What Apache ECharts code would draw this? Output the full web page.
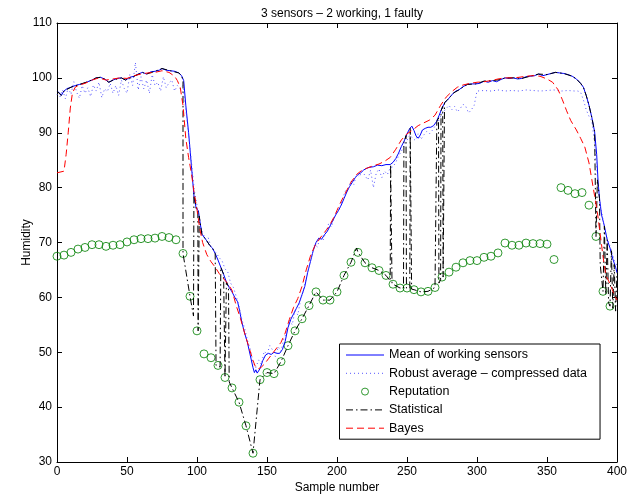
<!DOCTYPE html>
<html>
<head>
<meta charset="utf-8">
<script src="https://cdn.jsdelivr.net/npm/echarts@6/dist/echarts.min.js"></script>
<style>html,body{margin:0;padding:0;background:#fff}#c{width:643px;height:499px}</style>
</head>
<body>
<div id="c"></div>
<script>
var titleText = '3 sensors \u2013 2 working, 1 faulty';
var seriesNames = ['Mean of working sensors', 'Robust average \u2013 compressed data', 'Reputation', 'Statistical', 'Bayes'];
var xTicks = {min: 0, max: 400, interval: 50};
var yTicks = {min: 30, max: 110, interval: 10};

var meanData = [[0,97.6],[2,97.2],[3,96.8],[5,97.6],[7,98.0],[10,98.3],[13,98.6],[16,98.8],[19,99.0],[22,99.3],[25,99.6],[28,100.0],[31,100.1],[34,99.8],[37,99.2],[40,99.6],[43,99.9],[46,100.0],[49,99.6],[52,100.1],[55,100.3],[58,100.7],[61,101.0],[64,100.7],[67,101.1],[70,101.2],[73,101.4],[75,101.7],[78,101.4],[81,101.3],[84,101.2],[87,100.9],[89,100.4],[90.5,99.5],[92,95],[94,90],[96,84],[98,78],[99.5,76.2],[101,75.8],[102,74],[103.5,71.5],[105,71.0],[107,70.3],[109,69.5],[111,69.0],[113,68.0],[115,66.8],[117,65.5],[119,64.2],[121,62.8],[123,61.8],[125,61.0],[127,60.0],[129,59.2],[130.5,57.5],[132,55.5],[134,53.5],[136,51.8],[138,49.5],[140,47.2],[141,46.3],[142,46.8],[143,46.2],[145,47.0],[147,48.5],[149,49.5],[151,49.8],[153,49.6],[155,50.0],[157,49.8],[159,49.8],[161,50.5],[163,52.0],[165,54.5],[167,56.0],[169,57.0],[171,58.0],[173,59.0],[175,60.5],[177,62.0],[179,64.5],[181,66.5],[183,68.5],[185,70.0],[187,70.8],[189,70.6],[191,71.4],[193,72.0],[195,73.0],[197,74.0],[199,75.0],[201,75.8],[203,76.8],[205,78.0],[207,79.2],[209,80.2],[211,81.0],[213,81.8],[215,82.4],[217,82.7],[219,83.2],[221,83.5],[223,83.7],[226,83.8],[229,84.1],[232,84.0],[235,84.2],[238,84.2],[240,84.6],[242,85.3],[244,86.3],[246,87.5],[248,88.5],[250,89.8],[252,90.8],[253.5,91.2],[255,90.4],[256.5,89.4],[258,89.0],[259.5,89.6],[261,90.5],[263,90.8],[265,91.0],[267,91.0],[269,91.3],[271,92.0],[273,93.2],[275,94.5],[277,95.5],[279,96.0],[281,96.6],[283,97.2],[285,97.6],[287,97.8],[290,98.4],[293,98.8],[296,98.9],[299,98.9],[302,99.0],[305,99.4],[308,99.2],[311,99.5],[314,99.3],[317,99.7],[320,100.0],[323,99.9],[326,100.0],[329,99.8],[332,99.9],[335,100.2],[338,100.3],[341,100.4],[344,100.7],[347,100.4],[350,100.6],[353,100.8],[356,101.0],[359,100.9],[362,100.8],[365,100.6],[368,100.3],[371,99.8],[374,99.0],[376,98.3],[378,96.8],[380,95.0],[382,92.8],[384,90.2],[385.5,86],[386.5,81],[387.5,78],[389,75],[391,73],[393,70.5],[395,69],[397,67.0],[399,65.5],[400,64.5]];

var robustX = [0,2,4,6,8,10,12,14,16,18,20,22,24,26,28,30,32,34,36,38,40,42,44,46,48,50,52,54,56,58,60,62,64,66,68,70,72,74,76,78,80,82,84,86,88,90,92,94,96,98,100,102,104,106,108,110,112,114,116,118,120,122,124,126,128,130,132,134,136,138,140,142,144,146,148,150,152,154,156,158,160,162,164,166,168,170,172,174,176,178,180,182,184,186,188,190,192,194,196,198,200,202,204,206,208,210,212,214,216,218,220,222,224,226,228,230,232,234,236,238,240,242,244,246,248,250,252,254,256,258,260,262,264,266,268,270,272,274,276,278,280,282,284,286,288,290,292,294,296,298,300,305,310,315,320,325,330,335,340,345,350,355,360,365,370,372,374,376,378,380,382,384,386,388,390,392,394,396,398,400];
var robustY = [97.0,96.5,97.8,96.2,98.2,97.0,99.3,97.4,96.3,98.6,97.2,98.2,96.6,98.7,97.6,99.2,96.4,98.0,97.5,99.0,97.2,98.6,96.8,99.6,98.1,97.2,100.6,98.6,102.8,97.8,100.2,98.0,99.6,97.2,100.6,98.6,99.2,97.6,100.2,98.2,99.1,99.6,97.6,98.6,98.0,98.6,94.2,89.6,84.8,79.6,76.8,73.8,71.8,70.6,70.9,69.2,68.6,68.0,67.2,66.6,65.2,64.6,62.6,61.8,60.2,58.4,56.0,54.4,52.2,50.6,48.2,47.2,48.6,47.8,50.2,49.6,51.2,50.4,49.2,51.0,50.2,52.4,53.6,55.8,55.0,57.6,56.8,59.6,61.2,63.6,65.6,67.4,69.6,69.2,71.0,70.4,71.8,73.4,72.8,74.6,75.6,76.2,78.0,79.4,79.8,81.2,80.6,82.4,82.0,83.0,82.2,81.4,83.2,80.0,82.6,83.4,81.8,83.0,82.4,83.6,83.8,84.6,85.8,86.6,87.8,88.6,89.6,89.0,88.6,89.8,88.8,89.6,90.2,89.8,90.4,91.2,91.8,93.0,93.8,94.4,95.0,94.2,94.8,93.8,94.4,95.2,94.8,93.6,94.2,95.0,97.6,97.7,97.6,97.8,97.6,97.7,97.6,97.8,97.7,97.6,97.7,97.8,97.6,97.7,97.6,97.6,97.4,96.0,94.2,93.0,92.2,88.0,82.0,77.0,74.2,71.6,70.0,68.6,66.8,65.8];

var reputationX = [0,5,10,15,20,25,30,35,40,45,50,55,60,65,70,75,80,85,90,95,100,105,110,115,120,125,130,135,140,145,150,155,160,165,170,175,180,185,190,195,200,205,210,215,220,225,230,235,240,245,250,255,260,265,270,275,280,285,290,295,300,305,310,315,320,325,330,335,340,345,350,355,360,365,370,375,380,385,390,395];
var reputationY = [67.5,67.7,68.2,68.8,69.1,69.6,69.6,69.3,69.5,69.6,70.1,70.5,70.7,70.7,70.8,71.1,70.9,70.5,68.0,60.2,53.9,49.7,49.0,47.6,45.4,43.5,40.9,36.6,31.6,45.0,46.3,46.1,48.3,51.2,53.9,56.1,58.5,61.0,59.5,59.5,61.0,64.0,66.4,68.2,66.3,65.4,64.9,64.0,62.4,61.7,61.7,61.4,61.0,61.1,61.8,63.7,64.6,65.5,66.3,66.7,66.7,67.3,67.5,68.1,69.9,69.5,69.5,69.9,69.8,69.8,69.7,66.9,80.0,79.5,78.9,79.1,76.8,71.1,61.1,58.4];

var statisticalData = [[0,97.6],[3,96.8],[5,97.6],[10,98.3],[16,98.8],[22,99.3],[28,100.0],[31,100.1],[34,99.8],[37,99.2],[40,99.6],[46,100.0],[49,99.6],[55,100.3],[61,101.0],[64,100.7],[70,101.2],[75,101.7],[81,101.3],[87,100.9],[89,100.4],[90,99.5],[90,68.0],[95,60.2],[97.5,56.6],[97.8,79.0],[99.5,76.2],[100.6,75.8],[100.8,53.9],[101.2,53.9],[101.6,74.8],[103.5,71.5],[105,71.0],[107,70.3],[109,69.5],[111,69.0],[113,68.0],[113.6,47.6],[115,47.6],[116.5,47.3],[117,65.5],[119,64.2],[120,45.4],[121,62.8],[122.5,61.9],[123,44.6],[125,43.5],[130,40.9],[135,36.6],[140,31.6],[145,45.0],[150,46.3],[155,46.1],[160,48.3],[165,51.2],[170,53.9],[175,56.1],[180,58.5],[185,61.0],[190,59.5],[195,59.5],[200,61.0],[205,64.0],[210,66.4],[214,69.0],[215,68.2],[220,66.3],[225,65.4],[230,64.9],[235,64.0],[238,63.0],[238.3,84.2],[239,84.4],[239.3,62.5],[240,62.4],[245,61.7],[247.5,61.7],[247.8,88.2],[249.3,89.5],[249.6,61.7],[250,61.7],[252,61.6],[252.3,90.8],[253,91.1],[253.3,61.5],[255,61.4],[260,61.0],[265,61.1],[270,61.8],[271,62.0],[271.3,92.0],[272.5,92.9],[272.8,62.6],[274,63.2],[274.3,94.0],[275.5,94.8],[275.8,63.7],[276.5,64.0],[276.8,95.5],[279,96.0],[283,97.2],[287,97.8],[293,98.8],[299,98.9],[305,99.4],[311,99.5],[317,99.7],[320,100.0],[326,100.0],[332,99.9],[338,100.3],[344,100.7],[350,100.6],[356,101.0],[362,100.8],[368,100.3],[371,99.8],[374,99.0],[376,98.3],[378,96.8],[380,95.0],[382,92.8],[384,90.2],[385,71.1],[386,81.5],[387.5,78],[388,66],[390,61.1],[391,73],[392,60.5],[393,70.5],[394,59],[395,58.4],[396,68.5],[397,58],[398,66],[399,57.5],[400,64.5]];

var bayesData = [[0,82.7],[5,83.0],[6.5,86],[8,90],[9.5,94.5],[11,97.2],[13,98.3],[16,98.7],[20,99.0],[25,99.6],[30,100.0],[35,99.6],[40,99.8],[45,100.0],[50,99.9],[55,100.4],[60,100.7],[65,100.9],[70,101.0],[75,101.3],[80,101.0],[84,100.3],[86,99.5],[88,98.3],[90,95.0],[92,89.0],[94,85.5],[96,82.6],[98,79.0],[100,76.0],[102,72.5],[104,70.0],[107,67.8],[110,66.5],[113,65.5],[116,64.3],[119,63.4],[122,62.5],[125,61.3],[128,58.5],[131,56.2],[134,53.5],[137,51.0],[140,48.5],[142,47.2],[144,47.0],[146,47.3],[148,47.8],[151,48.8],[154,49.8],[157,50.8],[160,51.8],[163,53.5],[166,56.0],[169,58.2],[172,59.8],[175,62.0],[178,65.0],[181,67.5],[184,69.3],[187,70.5],[190,71.5],[194,72.8],[198,74.7],[202,77.0],[206,79.0],[210,81.0],[214,82.4],[218,83.2],[222,83.6],[226,84.0],[230,84.3],[234,84.8],[238,85.5],[242,87.0],[246,88.7],[250,89.8],[254,90.5],[258,91.3],[262,91.8],[266,92.3],[270,93.2],[274,95.0],[278,96.5],[282,97.5],[286,98.3],[290,98.7],[295,99.0],[300,99.2],[305,99.3],[310,99.5],[315,99.8],[320,100.0],[325,100.0],[330,100.1],[335,100.3],[340,100.4],[345,100.3],[350,99.8],[354,99.2],[358,97.8],[361,96.0],[364,94.0],[367,92.2],[371,90.5],[374,89.0],[377,87.4],[380,84.5],[382,81.5],[384,78.5],[386,75.5],[388,71.5],[390,67.5],[392,64.0],[395,62.5],[398,60.5],[400,59.5]];

function zip(xs, ys) { var out = []; for (var i = 0; i < xs.length; i++) out.push([xs[i], ys[i]]); return out; }

var FONT = '"Liberation Sans", Arial, Helvetica, sans-serif';
var chart = echarts.init(document.getElementById('c'), null, {renderer: 'canvas'});
var hideSym = {color: 'rgba(0,0,0,0)', borderWidth: 0};
var axisBase = {
  axisLine: {show: true, onZero: false, lineStyle: {color: '#000', width: 1}},
  axisTick: {show: true, inside: true, length: 5, lineStyle: {color: '#000', width: 1}},
  splitLine: {show: false}
};
chart.setOption({
  animation: false,
  backgroundColor: '#fff',
  textStyle: {fontFamily: FONT},
  title: {text: titleText, left: 337, textAlign: 'center', top: 3,
    textStyle: {fontFamily: FONT, fontSize: 12, fontWeight: 'normal', color: '#000'}},
  grid: {left: 57, right: 26, top: 23, bottom: 35, containLabel: false},
  legend: {
    orient: 'vertical', left: 339.5, top: 344,
    itemWidth: 38, itemHeight: 7, itemGap: 4.3,
    padding: [4, 13, 4, 6],
    borderColor: '#000', borderWidth: 1, backgroundColor: '#fff', borderRadius: 0,
    textStyle: {fontFamily: FONT, fontSize: 12.5, color: '#000', lineHeight: 14},
    selectedMode: false,
    data: [
      {name: seriesNames[0], itemStyle: hideSym, lineStyle: {width: 1, color: '#0000ff', type: 'solid'}},
      {name: seriesNames[1], itemStyle: hideSym, lineStyle: {width: 1, color: '#5555ff', type: [1, 3]}},
      {name: seriesNames[2], itemStyle: {color: 'rgba(255,255,255,0)', borderColor: '#008000', borderWidth: 1}},
      {name: seriesNames[3], itemStyle: hideSym, lineStyle: {width: 1, color: '#000', type: [7, 3, 1.5, 3]}},
      {name: seriesNames[4], itemStyle: hideSym, lineStyle: {width: 1, color: '#ff0000', type: [7, 4]}}
    ]
  },
  xAxis: [
    Object.assign({type: 'value', position: 'bottom', min: xTicks.min, max: xTicks.max, interval: xTicks.interval,
      name: 'Sample number', nameLocation: 'middle', nameGap: 20, nameMoveOverlap: false,
      nameTextStyle: {fontFamily: FONT, fontSize: 12, color: '#000'},
      axisLabel: {fontFamily: FONT, fontSize: 12, color: '#000', margin: 4}}, axisBase),
    Object.assign({type: 'value', position: 'top', min: xTicks.min, max: xTicks.max, interval: xTicks.interval,
      axisLabel: {show: false}}, axisBase)
  ],
  yAxis: [
    Object.assign({type: 'value', position: 'left', min: yTicks.min, max: yTicks.max, interval: yTicks.interval,
      name: 'Humidity', nameLocation: 'middle', nameGap: 24, nameMoveOverlap: false,
      nameTextStyle: {fontFamily: FONT, fontSize: 12, color: '#000'},
      axisLabel: {fontFamily: FONT, fontSize: 12, color: '#000', margin: 5}}, axisBase),
    Object.assign({type: 'value', position: 'right', min: yTicks.min, max: yTicks.max, interval: yTicks.interval,
      axisLabel: {show: false}}, axisBase)
  ],
  series: [
    {name: seriesNames[0], type: 'line', data: meanData, symbol: 'none', showSymbol: false,
      lineStyle: {color: '#0000ff', width: 1, type: 'solid'}, itemStyle: {color: '#0000ff'}},
    {name: seriesNames[1], type: 'line', data: zip(robustX, robustY), symbol: 'none', showSymbol: false,
      lineStyle: {color: '#5555ff', width: 1, type: [1, 3]}, itemStyle: {color: '#5555ff'}},
    {name: seriesNames[2], type: 'scatter', data: zip(reputationX, reputationY), symbol: 'circle', symbolSize: 8,
      itemStyle: {color: 'rgba(255,255,255,0)', borderColor: '#008000', borderWidth: 1}},
    {name: seriesNames[3], type: 'line', data: statisticalData, symbol: 'none', showSymbol: false,
      lineStyle: {color: '#000000', width: 1, type: [7, 3, 1.5, 3]}, itemStyle: {color: '#000'}},
    {name: seriesNames[4], type: 'line', data: bayesData, symbol: 'none', showSymbol: false,
      lineStyle: {color: '#ff0000', width: 1, type: [7, 4]}, itemStyle: {color: '#ff0000'}}
  ]
});
</script>
</body>
</html>
